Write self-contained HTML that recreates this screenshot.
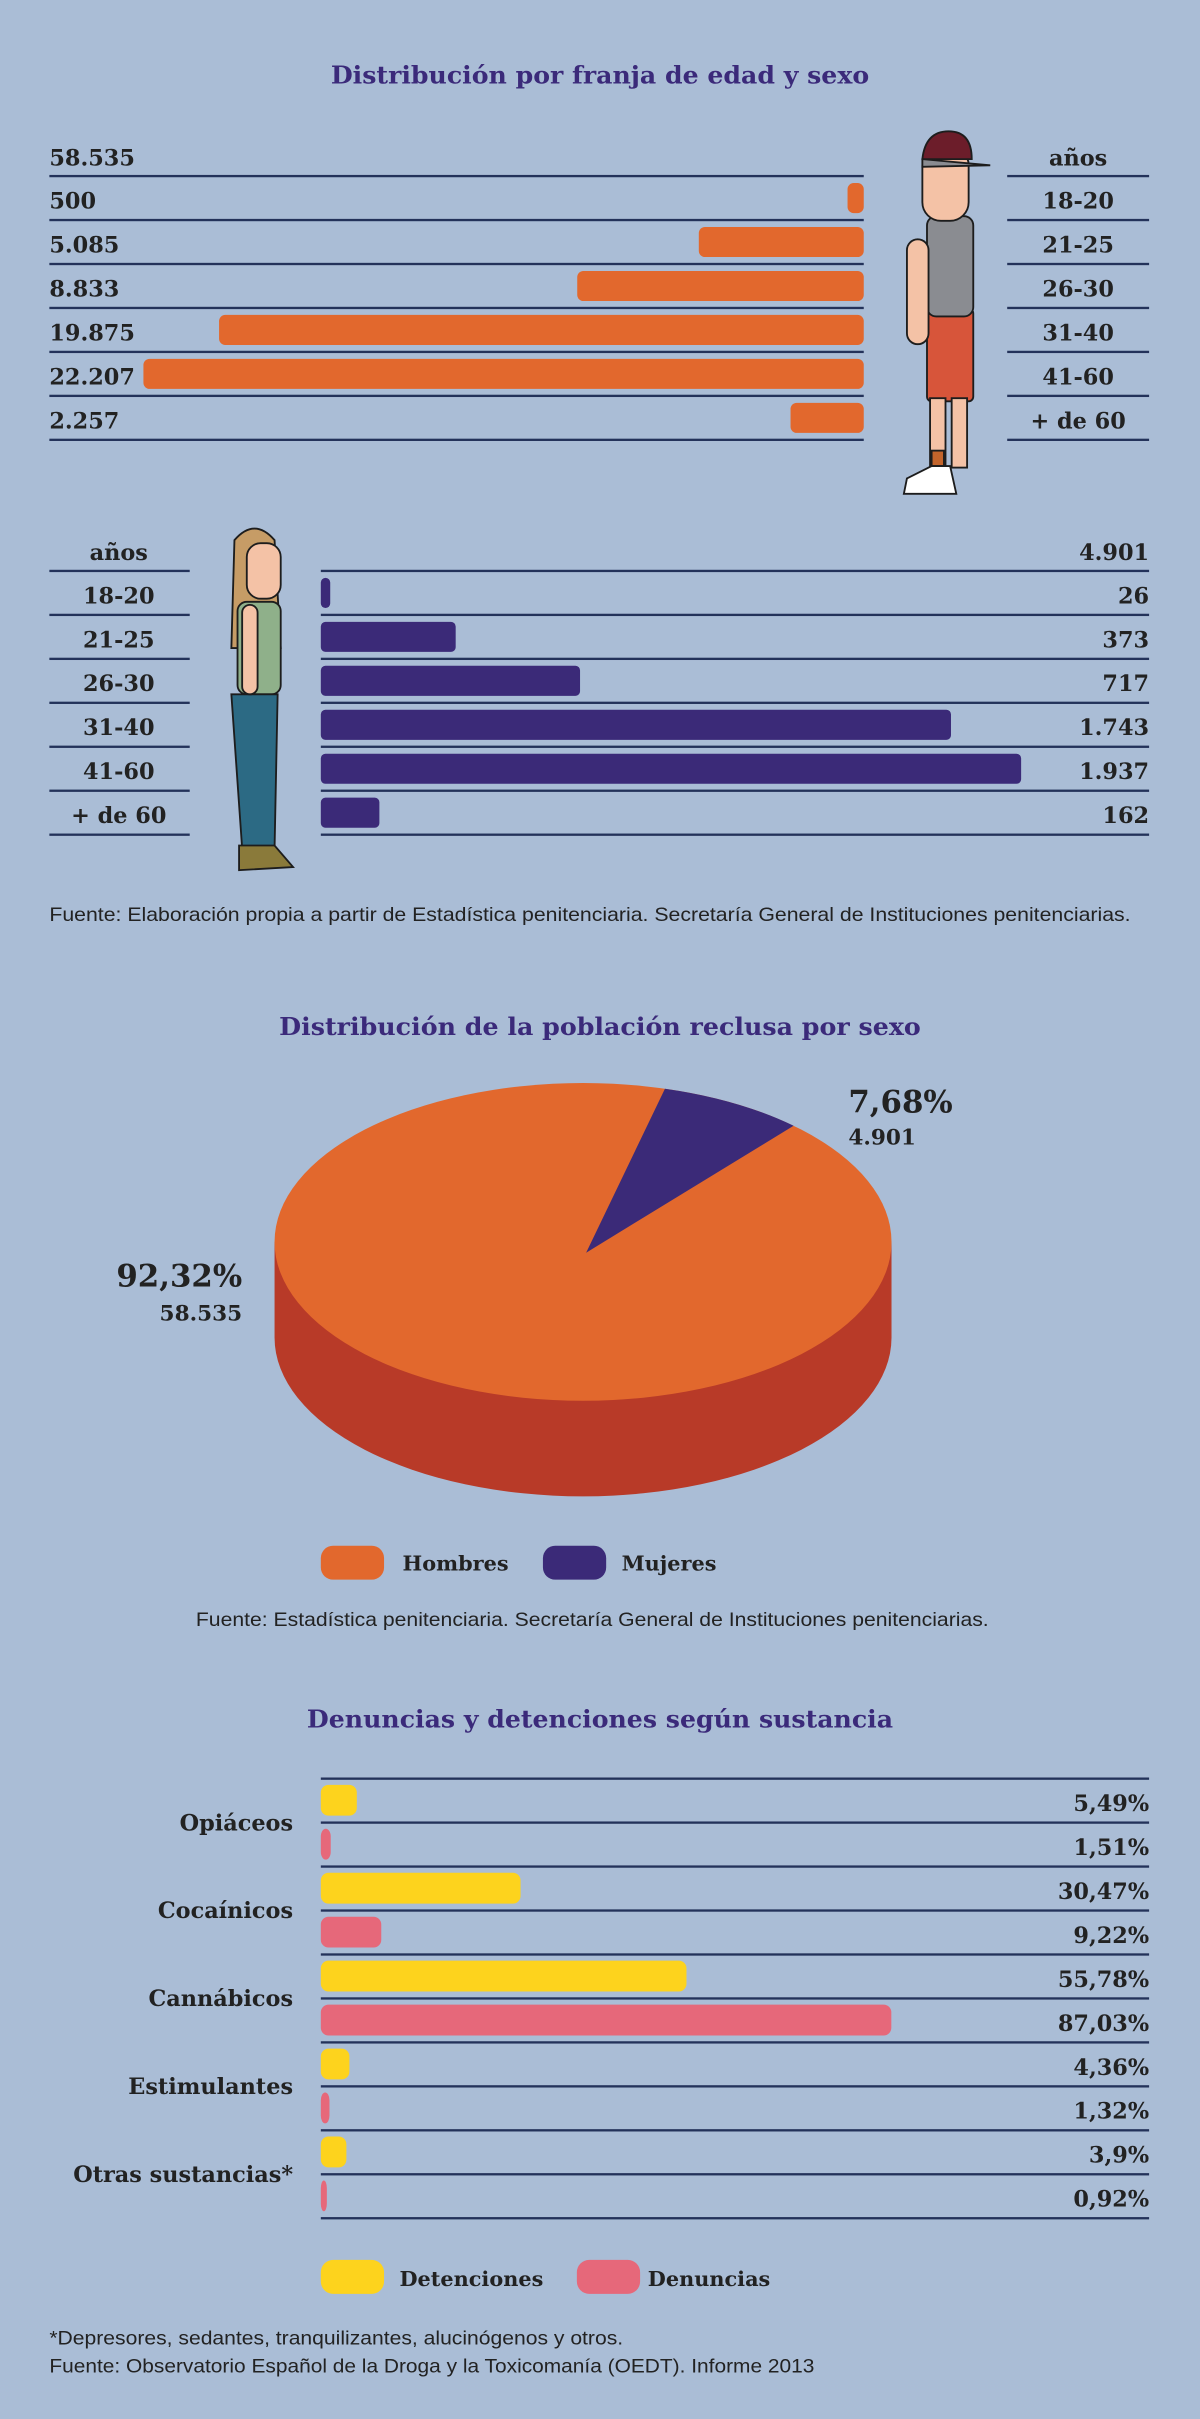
<!DOCTYPE html>
<html><head><meta charset="utf-8"><style>
html,body{margin:0;padding:0;background:#aabdd6;}
svg{display:block;}
.t{font-family:"DejaVu Serif","Liberation Serif",serif;font-weight:bold;fill:#222;}
.s{font-family:"Liberation Sans",sans-serif;fill:#222;}
</style></head><body>
<svg id="chart" width="1200" height="2419" viewBox="0 0 778 1568" xmlns="http://www.w3.org/2000/svg">
<rect width="778" height="1568" fill="#aabdd6"/>
<text class="t" x="389" y="54" text-anchor="middle" font-size="16" textLength="349" lengthAdjust="spacingAndGlyphs" style="fill:#3b2a7a">Distribución por franja de edad y sexo</text>
<g id="male"></g>
<g id="female"></g>
<g stroke="#1d1d1d" stroke-width="1.2">
<rect x="601" y="200" width="30" height="60" rx="3" fill="#d7553a"/>
<rect x="603" y="258" width="10" height="45" fill="#f4c2a6"/>
<rect x="617" y="258" width="10" height="45" fill="#f4c2a6"/>
<rect x="604" y="292" width="8" height="10" fill="#c2642b"/>
<path d="M588 310 L604 302 L616 302 L620 320 L586 320 Z" fill="#fff"/>
<rect x="601" y="140" width="30" height="65" rx="6" fill="#8a8c91"/>
<rect x="588" y="155" width="14" height="68" rx="7" fill="#f4c2a6"/>
<rect x="598" y="95" width="30" height="48" rx="12" fill="#f4c2a6"/>
<path d="M598 103 Q600 85 615 85 Q630 85 630 103 Z" fill="#6c1d2a"/>
<path d="M598 103 L642 107 L598 108 Z" fill="#8a8c91"/>
</g>
<g stroke="#1d1d1d" stroke-width="1.2">
<path d="M152 350 Q165 335 178 350 L182 420 L150 420 Z" fill="#c69c66"/>
<rect x="154" y="390" width="28" height="60" rx="6" fill="#8fb08a"/>
<path d="M150 450 L180 450 L178 550 L157 550 Z" fill="#2c6a84"/>
<rect x="157" y="392" width="10" height="58" rx="5" fill="#f4c2a6"/>
<rect x="160" y="352" width="22" height="36" rx="9" fill="#f4c2a6"/>
<path d="M155 548 L178 548 L190 562 L155 564 Z" fill="#8a7a3a"/>
</g>
<text class="s" x="32" y="597" font-size="12.5" textLength="701" lengthAdjust="spacingAndGlyphs">Fuente: Elaboración propia a partir de Estadística penitenciaria. Secretaría General de Instituciones penitenciarias.</text>
<text class="t" x="389" y="671" text-anchor="middle" font-size="16" textLength="416" lengthAdjust="spacingAndGlyphs" style="fill:#3b2a7a">Distribución de la población reclusa por sexo</text>
<g id="pie"></g>
<text class="t" x="550" y="721" font-size="20">7,68%</text>
<text class="t" x="550" y="742" font-size="14">4.901</text>
<text class="t" x="157" y="834" text-anchor="end" font-size="20">92,32%</text>
<text class="t" x="157" y="856" text-anchor="end" font-size="14">58.535</text>
<rect x="208" y="1002" width="41" height="22" rx="8" fill="#e2682d"/>
<text class="t" x="261" y="1018" font-size="13.5">Hombres</text>
<rect x="352" y="1002" width="41" height="22" rx="8" fill="#3b2a78"/>
<text class="t" x="403" y="1018" font-size="13.5">Mujeres</text>
<text class="s" x="127" y="1054" font-size="12.5" textLength="514" lengthAdjust="spacingAndGlyphs">Fuente: Estadística penitenciaria. Secretaría General de Instituciones penitenciarias.</text>
<text class="t" x="389" y="1120" text-anchor="middle" font-size="16" textLength="380" lengthAdjust="spacingAndGlyphs" style="fill:#3b2a7a">Denuncias y detenciones según sustancia</text>
<g id="subs"></g>
<rect x="208" y="1465" width="41" height="22" rx="8" fill="#fdd31d"/>
<text class="t" x="259" y="1482" font-size="13.5">Detenciones</text>
<rect x="374" y="1465" width="41" height="22" rx="8" fill="#e6687a"/>
<text class="t" x="420" y="1482" font-size="13.5">Denuncias</text>
<text class="s" x="32" y="1520" font-size="12.5" textLength="372" lengthAdjust="spacingAndGlyphs">*Depresores, sedantes, tranquilizantes, alucinógenos y otros.</text>
<text class="s" x="32" y="1538" font-size="12.5" textLength="496" lengthAdjust="spacingAndGlyphs">Fuente: Observatorio Español de la Droga y la Toxicomanía (OEDT). Informe 2013</text>
</svg>
<script>
const NS="http://www.w3.org/2000/svg";
const ageGroups=["18-20","21-25","26-30","31-40","41-60","+ de 60"];
const menValues=[500,5085,8833,19875,22207,2257];
const menLabels=["500","5.085","8.833","19.875","22.207","2.257"];
const menTotal="58.535";
const womenValues=[26,373,717,1743,1937,162];
const womenLabels=["26","373","717","1.743","1.937","162"];
const womenTotal="4.901";
const pieShares=[92.32,7.68];
const substances=["Opiáceos","Cocaínicos","Cannábicos","Estimulantes","Otras sustancias*"];
const detenciones=[5.49,30.47,55.78,4.36,3.9];
const denuncias=[1.51,9.22,87.03,1.32,0.92];
const detLabels=["5,49%","30,47%","55,78%","4,36%","3,9%"];
const denLabels=["1,51%","9,22%","87,03%","1,32%","0,92%"];

function mk(tag,attrs,parent,text){const e=document.createElementNS(NS,tag);for(const k in attrs)e.setAttribute(k,attrs[k]);if(text!==undefined)e.textContent=text;parent.appendChild(e);return e;}
const ROW=28.5, LINE="#23325a", FS=14.5;

(function(){
const g=document.getElementById('male');
const top=114, right=560, xs=v=>v*0.02103;
let t=mk('text',{class:'t',x:32,y:top-7,'font-size':FS},g,menTotal);


t=mk('text',{class:'t',x:699,y:top-7,'font-size':FS,'text-anchor':'middle'},g,"años");


for(let k=0;k<=6;k++){
 mk('rect',{x:32,y:top+k*ROW-0.75,width:528,height:1.5,fill:LINE},g);
 mk('rect',{x:653,y:top+k*ROW-0.75,width:92,height:1.5,fill:LINE},g);
}
menValues.forEach((v,i)=>{
 const y=top+i*ROW;
 const w=xs(v);
 const b=mk('rect',{x:right-w,y:y+4.5,width:w,height:19.5,rx:4,fill:'#e2682d'},g);
 
 
 const l=mk('text',{class:'t',x:32,y:y+21,'font-size':FS},g,menLabels[i]);
 
 
 const a=mk('text',{class:'t',x:699,y:y+21,'font-size':FS,'text-anchor':'middle'},g,ageGroups[i]);
 
 
});
})();
(function(){
const g=document.getElementById('female');
const top=370, left=208, xs=v=>v*0.2344;
let t=mk('text',{class:'t',x:745,y:top-7,'font-size':FS,'text-anchor':'end'},g,womenTotal);


t=mk('text',{class:'t',x:77,y:top-7,'font-size':FS,'text-anchor':'middle'},g,"años");


for(let k=0;k<=6;k++){
 mk('rect',{x:208,y:top+k*ROW-0.75,width:537,height:1.5,fill:LINE},g);
 mk('rect',{x:32,y:top+k*ROW-0.75,width:91,height:1.5,fill:LINE},g);
}
womenValues.forEach((v,i)=>{
 const y=top+i*ROW;
 const w=Math.max(xs(v),6);
 const b=mk('rect',{x:left,y:y+4.5,width:w,height:19.5,rx:3,fill:'#3b2a78'},g);
 
 
 const l=mk('text',{class:'t',x:745,y:y+21,'font-size':FS,'text-anchor':'end'},g,womenLabels[i]);
 
 
 const a=mk('text',{class:'t',x:77,y:y+21,'font-size':FS,'text-anchor':'middle'},g,ageGroups[i]);
 
 
});
})();
(function(){
const g=document.getElementById('pie');
const cx=378,cy=805,rx=200,ry=103,d=62;
const side=mk('path',{d:`M${cx-rx} ${cy} L${cx-rx} ${cy+d} A${rx} ${ry} 0 0 0 ${cx+rx} ${cy+d} L${cx+rx} ${cy} Z`,fill:'#b83a28'},g);


const top=mk('ellipse',{cx:cx,cy:cy,rx:rx,ry:ry,fill:'#e2682d'},g);


const pcx=380,pcy=812;
const a0=-74.6*Math.PI/180, a1=a0+pieShares[1]/100*2*Math.PI;
const p=(a)=>[cx+rx*Math.cos(a),cy+ry*Math.sin(a)];
const [x0,y0]=p(a0),[x1,y1]=p(a1);
const w=mk('path',{d:`M${pcx} ${pcy} L${x0} ${y0} A${rx} ${ry} 0 0 1 ${x1} ${y1} Z`,fill:'#3b2a78'},g);


})();
(function(){
const g=document.getElementById('subs');
const top=1153,left=208,xs=v=>v*4.25;
for(let k=0;k<=10;k++) mk('rect',{x:208,y:top+k*ROW-0.75,width:537,height:1.5,fill:LINE},g);
substances.forEach((s,i)=>{
 const y=top+i*2*ROW;
 const c=mk('text',{class:'t',x:190,y:y+ROW+5,'font-size':FS,'text-anchor':'end'},g,s);
 
 
 const b1=mk('rect',{x:left,y:y+4,width:Math.max(xs(detenciones[i]),4),height:20,rx:5,fill:'#fdd31d'},g);
 
 
 const b2=mk('rect',{x:left,y:y+ROW+4,width:Math.max(xs(denuncias[i]),3),height:20,rx:5,fill:'#e6687a'},g);
 
 
 const t1=mk('text',{class:'t',x:745,y:y+21,'font-size':FS,'text-anchor':'end'},g,detLabels[i]);
 
 
 const t2=mk('text',{class:'t',x:745,y:y+ROW+21,'font-size':FS,'text-anchor':'end'},g,denLabels[i]);
 
 
});
})();
</script>
</body></html>
